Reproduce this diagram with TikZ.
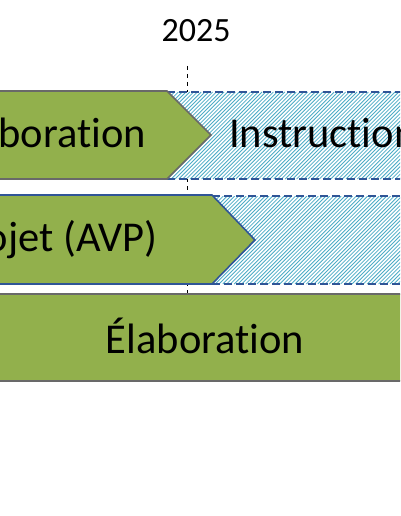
\documentclass[tikz,border=0pt]{standalone}
\usepackage{fontspec}
\setmainfont{Carlito}[Ligatures={NoCommon,NoContextual}]
\definecolor{grn}{RGB}{146,176,76}
\definecolor{grayb}{RGB}{105,105,105}
\definecolor{blueb}{RGB}{47,85,151}
\definecolor{hatchc}{RGB}{75,172,198}
\tikzset{
  lbl/.style={inner sep=0pt, font=\fontsize{42.5}{48}\selectfont},
  yearlbl/.style={inner sep=0pt, font=\fontsize{34}{40}\selectfont},
  guide/.style={black, line width=0.8pt, dash pattern=on 4pt off 4pt},
  hatchln/.style={hatchc, line width=0.8pt},
  dashbd/.style={blueb, line width=1.6pt, dash pattern=on 8pt off 4pt},
  greenbox/.style={fill=grn, line width=1.6pt},
}
\newcommand\myhatch[4]{%
  \fill[white] (#1,#2) rectangle (#3,#4);
  \begin{scope}
    \clip (#1,#2) rectangle (#3,#4);
    \pgfmathsetmacro\hh{#4-#2}
    \foreach \xx in {0,3.8,...,360}
      \draw[hatchln] ({#1-\hh+\xx},#4) -- ++(\hh,-\hh);
  \end{scope}
  \draw[dashbd] (#1,#2) -- (#3,#2);
  \draw[dashbd] (#1,#4) -- (#3,#4);
}
\begin{document}
\begin{tikzpicture}[x=1pt,y=-1pt]
\useasboundingbox (0,0) rectangle (400,516);
\clip (0,0) rectangle (400,516);
\fill[white] (0,0) rectangle (400,516);
\node[yearlbl, anchor=base] (year) at (196,42) {2025};
\coordinate (vt) at (187,66);
\coordinate (vb) at (187,294);
\draw[guide] (vt) -- (vb);
% row 1
\myhatch{167}{92}{420}{179}
\draw[greenbox, draw=grayb] (-20,91) -- (167,91) -- (211,135) -- (167,179) -- (-20,179) -- cycle;
\node[lbl, anchor=base east] (r1a) at (146,147.5) {Élaboration};
\node[lbl, anchor=base west] (r1b) at (229,147.5) {Instruction};
% row 2
\myhatch{212}{196}{420}{284}
\draw[greenbox, draw=blueb] (-20,195) -- (212,195) -- (255,240) -- (212,284) -- (-20,284) -- cycle;
\node[lbl, anchor=base east] (r2a) at (158,251) {Avant-projet (AVP)};
% row 3
\draw[greenbox, draw=grayb] (-20,294) rectangle (420,381);
\node[lbl, anchor=base] (r3a) at (205,353) {Élaboration};
\end{tikzpicture}
\end{document}
